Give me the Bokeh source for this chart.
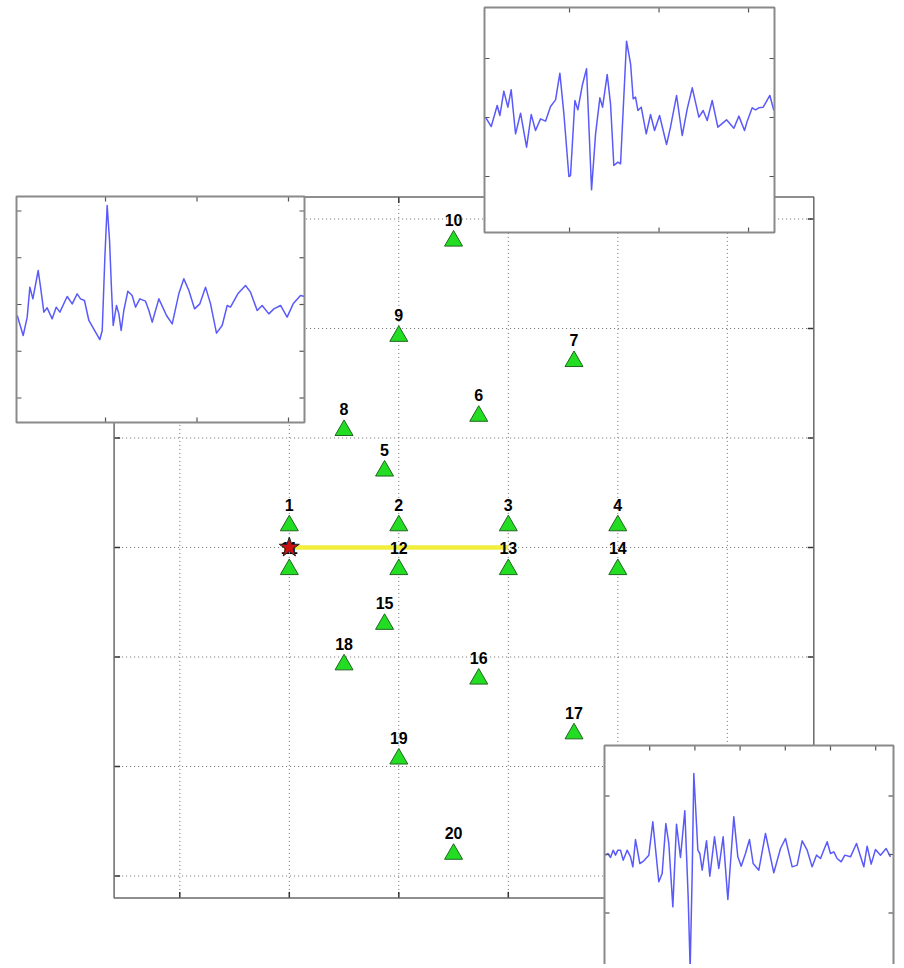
from bokeh.plotting import figure
from bokeh.models import Range1d
from bokeh.core.properties import value
from bokeh.embed import file_html
from bokeh.resources import INLINE

# ---------------- data ----------------
station_ids = [str(i) for i in range(1, 21)]
station_x = [0.0, 1.0, 2.0, 3.0, 0.87, 1.73, 2.6, 0.5, 1.0, 1.5,
             0.0, 1.0, 2.0, 3.0, 0.87, 1.73, 2.6, 0.5, 1.0, 1.5]
station_y = [0.2, 0.2, 0.2, 0.2, 0.7, 1.2, 1.7, 1.07, 1.93, 2.8,
             -0.2, -0.2, -0.2, -0.2, -0.7, -1.2, -1.7, -1.07, -1.93, -2.8]
source_x = [0.0]
source_y = [0.0]
path_x = [0.0, 2.0]
path_y = [0.0, 0.0]
grid_x_ticks = [-1, 0, 1, 2, 3, 4]
grid_y_ticks = [-3, -2, -1, 0, 1, 2, 3]
main_xlim = (-1.6, 4.79)
main_ylim = (-3.2, 3.2)

# waveform 1 (top-left inset)
w1_t = [0.035, 0.100, 0.144, 0.173, 0.206, 0.264, 0.290, 0.326, 0.362, 0.417,
        0.461, 0.501, 0.581, 0.636, 0.690, 0.727, 0.770, 0.818, 0.891, 0.938,
        0.964, 0.993, 1.018, 1.044, 1.066, 1.084, 1.120, 1.146, 1.171, 1.200,
        1.244, 1.291, 1.328, 1.375, 1.437, 1.474, 1.510, 1.583, 1.667, 1.729,
        1.801, 1.856, 1.911, 1.973, 2.031, 2.093, 2.148, 2.213, 2.275, 2.330,
        2.366, 2.446, 2.530, 2.585, 2.658, 2.712, 2.785, 2.840, 2.913, 2.985,
        3.051, 3.131, 3.178]
w1_a = [-0.235, -0.663, -0.271, 0.371, 0.121, 0.727, 0.371, -0.164, -0.071, -0.307,
        -0.057, -0.164, 0.171, 0.014, 0.228, 0.121, 0.086, -0.342, -0.592, -0.749,
        -0.556, 1.012, 2.118, 1.369, 0.299, -0.449, -0.021, -0.200, -0.556, -0.128,
        0.285, 0.193, -0.057, 0.121, 0.071, -0.128, -0.378, 0.121, -0.235, -0.414,
        0.228, 0.549, 0.299, -0.093, 0.014, 0.371, 0.014, -0.613, -0.449, -0.021,
        -0.057, 0.228, 0.406, 0.264, -0.128, -0.021, -0.200, -0.093, -0.021, -0.271,
        0.014, 0.193, 0.171]

# waveform 2 (top-right inset)
w2_t = [0.061, 0.125, 0.192, 0.222, 0.266, 0.311, 0.348, 0.397, 0.453, 0.520,
        0.572, 0.620, 0.676, 0.732, 0.788, 0.844, 0.892, 0.937, 0.993, 1.011,
        1.060, 1.093, 1.142, 1.190, 1.246, 1.291, 1.339, 1.369, 1.421, 1.458,
        1.495, 1.540, 1.570, 1.637, 1.682, 1.711, 1.737, 1.764, 1.801, 1.857,
        1.905, 1.950, 2.006, 2.084, 2.128, 2.196, 2.259, 2.315, 2.371, 2.445,
        2.493, 2.538, 2.594, 2.657, 2.754, 2.836, 2.892, 2.955, 2.985, 3.041,
        3.078, 3.115, 3.164, 3.238, 3.283]
w2_a = [0.006, -0.153, 0.203, 0.034, 0.446, 0.175, 0.469, -0.277, 0.073, -0.503,
        0.051, -0.220, -0.023, -0.062, 0.186, 0.299, 0.751, 0.062, -1.000, -0.983,
        0.288, 0.130, 0.542, 0.825, -1.226, -0.277, 0.333, 0.175, 0.729, 0.232,
        -0.814, -0.757, -0.785, 1.294, 0.910, 0.316, 0.345, 0.119, 0.175, -0.277,
        0.051, -0.220, 0.034, -0.458, -0.164, 0.373, -0.305, 0.147, 0.503, 0.006,
        0.119, -0.051, 0.288, -0.164, -0.040, -0.181, 0.023, -0.220, -0.062, 0.164,
        0.130, 0.164, 0.175, 0.373, 0.119]

# waveform 3 (bottom-right inset)
w3_t = [0.022, 0.074, 0.133, 0.192, 0.243, 0.295, 0.354, 0.413, 0.501, 0.575,
        0.627, 0.686, 0.782, 0.870, 0.981, 1.069, 1.202, 1.276, 1.357, 1.423,
        1.512, 1.593, 1.681, 1.777, 1.851, 1.895, 1.940, 1.976, 2.035, 2.065,
        2.109, 2.161, 2.257, 2.330, 2.434, 2.529, 2.625, 2.729, 2.861, 2.950,
        3.024, 3.119, 3.208, 3.289, 3.414, 3.562, 3.746, 3.894, 4.004, 4.152,
        4.263, 4.373, 4.484, 4.594, 4.690, 4.779, 4.926, 5.000, 5.074, 5.147,
        5.236, 5.317, 5.442, 5.575, 5.737, 5.811, 5.900, 5.996, 6.106, 6.232,
        6.327]
w3_a = [-0.011, 0.017, -0.051, 0.074, -0.011, 0.074, 0.074, -0.097, 0.074, -0.040,
        -0.211, 0.256, -0.154, -0.108, -0.011, 0.558, -0.467, -0.325, 0.530, 0.188,
        -0.895, 0.519, -0.051, 0.746, -0.724, -1.950, -0.325, 1.385, 0.530, 0.074,
        0.017, -0.268, 0.234, -0.370, 0.302, -0.239, 0.302, -0.769, 0.644, -0.040,
        -0.199, 0.017, 0.256, -0.154, -0.268, 0.359, -0.313, 0.103, 0.274, -0.211,
        -0.182, 0.234, 0.074, -0.211, -0.011, -0.068, 0.217, 0.017, 0.046, -0.068,
        -0.125, -0.011, -0.040, 0.188, -0.211, 0.142, -0.165, 0.085, -0.011, 0.103,
        -0.040]

w1_xticks = [1, 2, 3]
w1_yticks = [-2, -1, 0, 1, 2]
w2_xticks = [1, 2, 3]
w2_yticks = [-1, 0, 1]
w3_xticks = [1, 2, 3, 4, 5, 6]
w3_yticks = [-1, 0, 1]

# ---------------- layout ----------------
W, H = 900, 964
OX, OY = 0.0, 0.0            # page offset of the canvas (observed)
UNIT = 109.5                 # px per main-plot unit
ORX, ORY = 288.8, 547.0      # page position of main-plot origin

p = figure(width=W, height=H, output_backend="svg", toolbar_location=None,
           x_range=Range1d((OX - ORX) / UNIT, (OX + W - ORX) / UNIT),
           y_range=Range1d((ORY - (OY + H)) / UNIT, (ORY - OY) / UNIT),
           min_border=0, min_border_left=0, min_border_right=0,
           min_border_top=0, min_border_bottom=0)
p.xaxis.visible = False
p.yaxis.visible = False
p.grid.visible = False
p.outline_line_color = None
p.background_fill_color = "white"
p.border_fill_color = "white"

GRID_COLOR = "#6f6f6f"
FRAME_COLOR = "#6a6a6a"
TICK = 6.0

# main grid (dotted)
x0s, y0s, x1s, y1s = [], [], [], []
for gx in grid_x_ticks:
    x0s.append(gx); x1s.append(gx); y0s.append(main_ylim[0]); y1s.append(main_ylim[1])
for gy in grid_y_ticks:
    y0s.append(gy); y1s.append(gy); x0s.append(main_xlim[0]); x1s.append(main_xlim[1])
p.segment(x0=x0s, y0=y0s, x1=x1s, y1=y1s, line_color=GRID_COLOR,
          line_width=1, line_dash="1 3")

# main ticks (inward)
tl = TICK / UNIT
tx0, ty0, tx1, ty1 = [], [], [], []
for gx in grid_x_ticks:
    tx0 += [gx, gx]; tx1 += [gx, gx]
    ty0 += [main_ylim[0], main_ylim[1]]; ty1 += [main_ylim[0] + tl, main_ylim[1] - tl]
for gy in grid_y_ticks:
    ty0 += [gy, gy]; ty1 += [gy, gy]
    tx0 += [main_xlim[0], main_xlim[1]]; tx1 += [main_xlim[0] + tl, main_xlim[1] - tl]
p.segment(x0=tx0, y0=ty0, x1=tx1, y1=ty1, line_color="#333333", line_width=1.5)

p.quad(left=[main_xlim[0]], right=[main_xlim[1]], bottom=[main_ylim[0]], top=[main_ylim[1]],
       fill_color=None, line_color=FRAME_COLOR, line_width=1.5)

# source -> receiver path
p.line(path_x, path_y, line_color="#f2ee3c", line_width=4.5)

# stations
p.scatter(station_x, station_y, marker="triangle", size=18,
          fill_color="#22dd22", line_color="#226622", line_width=1)
p.text(x=station_x, y=station_y, text=station_ids,
       text_font=value("Liberation Sans"), text_font_style="bold",
       text_font_size="16px", text_color="black",
       text_align="center", text_baseline="middle", y_offset=-21)

# epicentre star
p.scatter(source_x, source_y, marker="star", size=21,
          fill_color="#cc1111", line_color="#222222", line_width=1)

# ---------------- insets ----------------
WAVE_COLOR = "#5a5afa"
INSET_FRAME = "#8a8a8a"


def add_inset(name, box, xlim, ylim, t, a, xticks, yticks):
    l, r, tp, b = box
    ux = (r - l) / (xlim[1] - xlim[0])
    uy = (b - tp) / (ylim[1] - ylim[0])
    p.extra_x_ranges[name] = Range1d(xlim[0] - (l - OX) / ux, xlim[1] + (OX + W - r) / ux)
    p.extra_y_ranges[name] = Range1d(ylim[0] - (OY + H - b) / uy, ylim[1] + (tp - OY) / uy)
    kw = dict(x_range_name=name, y_range_name=name)
    p.quad(left=[xlim[0]], right=[xlim[1]], bottom=[ylim[0]], top=[ylim[1]],
           fill_color="white", line_color=None, **kw)
    p.line(t, a, line_color=WAVE_COLOR, line_width=1.5, line_join="round", **kw)
    lx, ly = 5.0 / ux, 5.0 / uy
    a0, b0, a1, b1 = [], [], [], []
    for xt in xticks:
        a0 += [xt, xt]; a1 += [xt, xt]
        b0 += [ylim[0], ylim[1]]; b1 += [ylim[0] + ly, ylim[1] - ly]
    for yt in yticks:
        b0 += [yt, yt]; b1 += [yt, yt]
        a0 += [xlim[0], xlim[1]]; a1 += [xlim[0] + lx, xlim[1] - lx]
    p.segment(x0=a0, y0=b0, x1=a1, y1=b1, line_color="#555555", line_width=1.2, **kw)
    p.quad(left=[xlim[0]], right=[xlim[1]], bottom=[ylim[0]], top=[ylim[1]],
           fill_color=None, line_color=INSET_FRAME, line_width=2, **kw)


add_inset("w1", (16, 304, 196, 422), (0.027, 3.175), (-2.524, 2.31),
          w1_t, w1_a, w1_xticks, w1_yticks)
add_inset("w2", (484, 774, 7, 232), (0.05, 3.29), (-1.949, 1.864),
          w2_t, w2_a, w2_xticks, w2_yticks)
add_inset("w3", (604, 893, 745, 972), (0.0, 6.394), (-2.017, 1.863),
          w3_t, w3_a, w3_xticks, w3_yticks)

open("out.html", "w").write(file_html(p, INLINE))
